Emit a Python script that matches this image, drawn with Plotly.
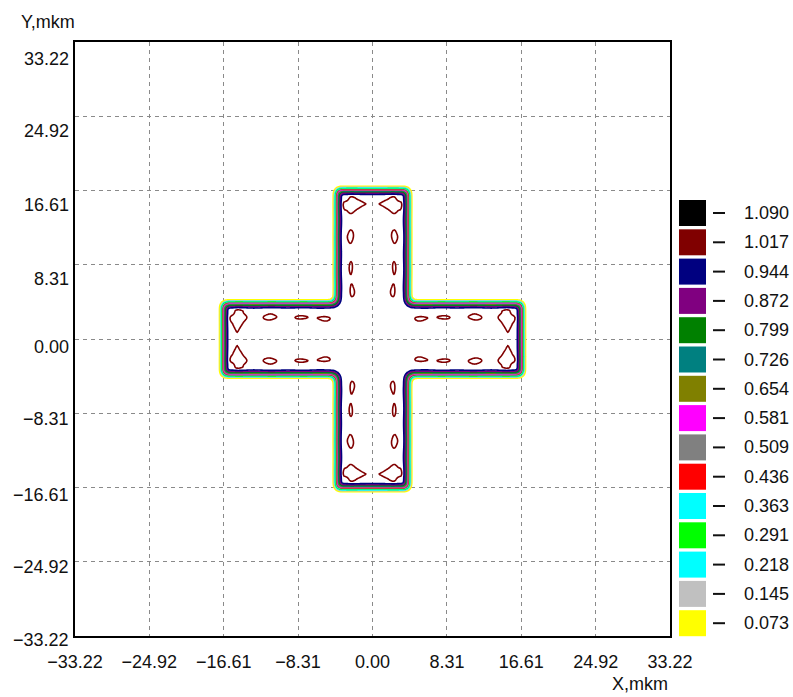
import numpy as np
import plotly.graph_objects as go

# ---------------- data ----------------
# contour levels as shown in the legend (top to bottom) and their colours
level_labels = ["1.090", "1.017", "0.944", "0.872", "0.799", "0.726", "0.654",
                "0.581", "0.509", "0.436", "0.363", "0.291", "0.218", "0.145", "0.073"]
level_colors = ["#000000", "#800000", "#000080", "#800080", "#008000", "#008080", "#808000",
                "#FF00FF", "#808080", "#FF0000", "#00FFFF", "#00FF00", "#00FFFF", "#C0C0C0", "#FFFF00"]

# axis ticks (mkm)
tick_vals = [-33.22, -24.92, -16.61, -8.31, 0.0, 8.31, 16.61, 24.92, 33.22]
tick_text = ["\u221233.22", "\u221224.92", "\u221216.61", "\u22128.31", "0.00",
             "8.31", "16.61", "24.92", "33.22"]

# cross-shaped object (mkm) and imaging parameters
arm_half_width = 4.15
arm_half_length = 16.85
cutoff_freq = 1.1        # main pupil cutoff, cycles / mkm
ring_freq = 0.30         # low-frequency coherent part, cycles / mkm
ring_weight = 0.14       # its relative weight

# ---------------- intensity field of the imaged cross ----------------
N = 512
dx = 0.1
c = (np.arange(N) - N // 2) * dx
X, Y = np.meshgrid(c, c)


def band(u, h):
    return np.clip((h - np.abs(u)) / dx + 0.5, 0.0, 1.0)


mask = np.maximum(band(X, arm_half_width) * band(Y, arm_half_length),
                  band(X, arm_half_length) * band(Y, arm_half_width))
f = np.fft.fftfreq(N, dx)
FX, FY = np.meshgrid(f, f)
rho = np.hypot(FX, FY)
pupil = np.where(rho < cutoff_freq, np.cos(np.pi * rho / (2 * cutoff_freq)) ** 2, 0.0)
pupil = (pupil + ring_weight * (rho < ring_freq)) / (1.0 + ring_weight)
amp = np.real(np.fft.ifft2(np.fft.fft2(mask) * pupil))
inten = amp ** 2

sel = np.abs(c) <= 19.05
xc = np.round(c[sel], 3)
zc = np.round(inten[np.ix_(sel, sel)], 4)

# ---------------- contour colouring ----------------
levels_asc = [float(v) for v in level_labels[::-1]]
colors_asc = level_colors[::-1]
n_lev = len(levels_asc)
lev_start = levels_asc[0]
lev_end = levels_asc[-1]
lev_size = (lev_end - lev_start) / (n_lev - 1)

colorscale = []
for k, col in enumerate(colors_asc):
    lo = max(0.0, (k - 0.5) / (n_lev - 1))
    hi = min(1.0, (k + 0.5) / (n_lev - 1))
    colorscale.append([lo, col])
    colorscale.append([hi, col])

fig = go.Figure()
fig.add_trace(go.Contour(
    x=xc, y=xc, z=zc,
    autocontour=False,
    contours=dict(start=lev_start, end=lev_end, size=lev_size, coloring="lines"),
    colorscale=colorscale,
    showscale=False,
    line=dict(width=1.6, smoothing=0.6),
    hoverinfo="skip",
))

FONT = "Liberation Sans, Arial, sans-serif"
TXT = dict(family=FONT, size=18, color="#111111")
axis_common = dict(
    range=[-33.22, 33.22],
    tickmode="array", tickvals=tick_vals, ticktext=tick_text,
    showgrid=True, gridcolor="#8a8a8a", gridwidth=1, griddash="4px,4px",
    zeroline=False, showline=True, linecolor="#000000", linewidth=2, mirror=True,
    ticks="", tickfont=TXT,
    fixedrange=True,
)

L_PX, R_PX, T_PX, B_PX = 75, 670, 42, 636
W, Hh = 793, 697


def xp(px):
    return (px - L_PX) / (R_PX - L_PX)


def yp(py):
    return (B_PX - py) / (B_PX - T_PX)


shapes = []
annotations = []
for k, (lab, col) in enumerate(zip(level_labels, level_colors)):
    top = 200 + 29.3 * k
    bot = top + 26
    mid = (top + bot) / 2
    shapes.append(dict(type="rect", xref="paper", yref="paper",
                       x0=xp(679), x1=xp(706), y0=yp(bot), y1=yp(top),
                       fillcolor=col, line=dict(width=0)))
    shapes.append(dict(type="line", xref="paper", yref="paper",
                       x0=xp(713), x1=xp(725), y0=yp(mid), y1=yp(mid),
                       line=dict(color="#111111", width=2)))
    annotations.append(dict(text=lab, xref="paper", yref="paper", x=xp(742), y=yp(mid),
                            xanchor="left", yanchor="middle", showarrow=False, font=TXT))

# y tick labels sit slightly below their grid lines in the original
ylabel_drop_px = [4, 5, 7, 6, 8, 14, 14, 15, 17]   # layout offsets, bottom to top
for v, t, drop in zip(tick_vals, tick_text, ylabel_drop_px):
    annotations.append(dict(text=t, xref="paper", yref="y", x=xp(71), y=v, yshift=-drop,
                            xanchor="right", yanchor="middle", showarrow=False, font=TXT))

annotations.append(dict(text="Y,mkm", xref="paper", yref="paper", x=xp(48), y=yp(22),
                        xanchor="center", yanchor="middle", showarrow=False, font=TXT))
annotations.append(dict(text="X,mkm", xref="paper", yref="paper", x=xp(640), y=yp(684),
                        xanchor="center", yanchor="middle", showarrow=False, font=TXT))

fig.update_layout(
    width=W, height=Hh,
    margin=dict(l=L_PX, r=W - R_PX, t=T_PX, b=Hh - B_PX, pad=0),
    paper_bgcolor="white", plot_bgcolor="white",
    xaxis=dict(**axis_common, ticklabelstandoff=8),
    yaxis=dict(**axis_common, showticklabels=False),
    shapes=shapes, annotations=annotations,
    showlegend=False,
)

fig.write_html("out.html")
